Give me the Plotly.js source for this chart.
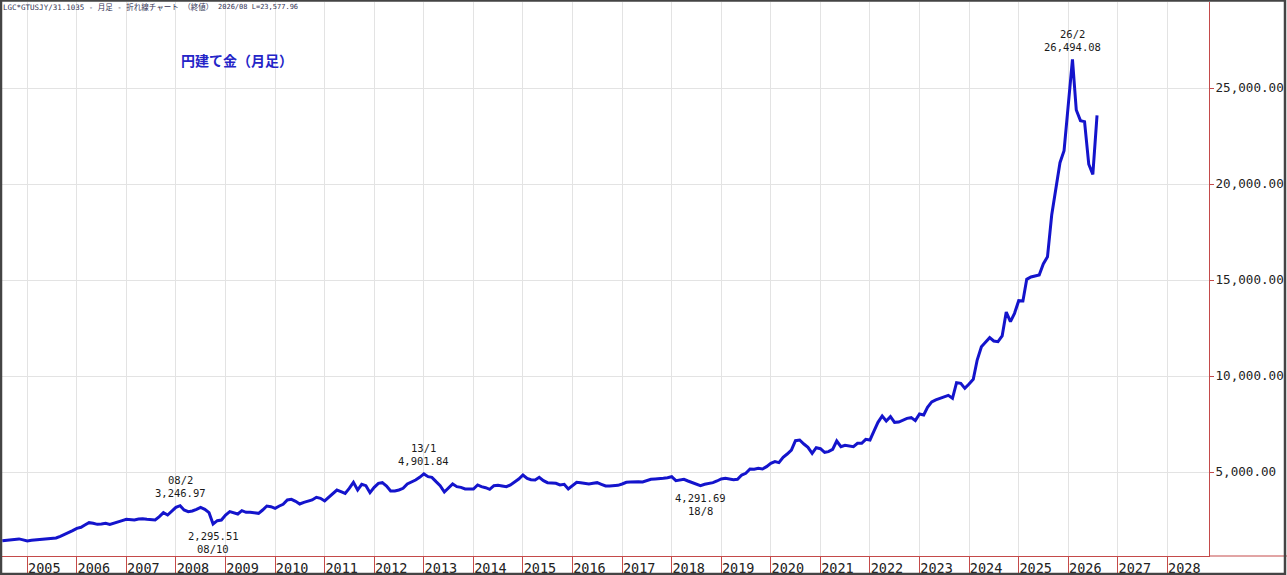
<!DOCTYPE html>
<html>
<head>
<meta charset="utf-8">
<script src="https://cdn.plot.ly/plotly-3.0.1.min.js"></script>
<style>
  html, body { margin: 0; padding: 0; background: #ffffff; }
  #chart { width: 1287px; height: 575px; }
</style>
</head>
<body>
<div id="chart"></div>
<script>
// ---- data (monthly close, JPY per gram), first month = 2004/07 ----
const startYear = 2004;
const startMonth = 7;
const monthlyClose = [
  1420, 1450, 1490, 1500, 1515, 1465,
  1406, 1440, 1458, 1476, 1493, 1528, 1545, 1562, 1649, 1736, 1823, 1944,
  2066, 2118, 2240, 2361, 2326, 2274, 2292, 2326, 2274, 2326, 2413, 2465,
  2535, 2500, 2500, 2552, 2569, 2535, 2500, 2500, 2674, 2882, 2760, 2934,
  3160, 3246.97, 3020, 2934, 2969, 3056, 3160, 3056, 2882, 2295.51, 2465, 2500,
  2760, 2934, 2882, 2812, 2986, 2899, 2899, 2873, 2847, 3021, 3229, 3194,
  3108, 3229, 3316, 3542, 3576, 3472, 3333, 3420, 3490, 3542, 3680, 3628,
  3490, 3680, 3854, 4062, 3976, 3889, 4149, 4462, 4062, 4358, 4288, 3923,
  4201, 4410, 4444, 4271, 4010, 4010, 4062, 4149, 4375, 4462, 4583, 4722,
  4901.84, 4757, 4722, 4497, 4288, 3958, 4184, 4375, 4236, 4201, 4115, 4097,
  4115, 4323, 4236, 4184, 4097, 4288, 4306, 4271, 4236, 4323, 4462, 4635,
  4844, 4670, 4601, 4583, 4722, 4549, 4444, 4410, 4410, 4323, 4358, 4115,
  4271, 4462, 4444, 4427, 4375, 4410, 4444, 4358, 4271, 4271, 4288, 4306,
  4375, 4462, 4479, 4497, 4497, 4479, 4549, 4618, 4635, 4635, 4670, 4705,
  4757, 4549, 4583, 4618, 4531, 4444, 4375, 4291.69, 4358, 4392, 4444, 4531,
  4635, 4670, 4618, 4601, 4618, 4844, 4931, 5156, 5141, 5193, 5156, 5278,
  5452, 5538, 5486, 5764, 5937, 6146, 6632, 6667, 6458, 6285, 5972, 6267,
  6215, 6024, 6059, 6181, 6615, 6319, 6389, 6372, 6319, 6493, 6493, 6701,
  6667, 7150, 7587, 7917, 7656, 7882, 7587, 7604, 7691, 7795, 7830, 7674,
  8021, 7969, 8368, 8650, 8760, 8850, 8930, 8990, 8837, 9653, 9618, 9358,
  9583, 9826, 10833, 11526, 11755, 11997, 11823, 11788, 12083, 13330, 12830, 13264,
  13924, 13906, 15035, 15156, 15208, 15260, 15833, 16215, 18385, 19774, 21111, 21736,
  24115, 26494.08, 23854, 23300, 23246, 21030, 20500, 23577.96
];

// marked highs / lows
const markDates  = ['2008-02-01', '2008-10-01', '2013-01-01', '2018-08-01', '2026-02-01'];
const markLabels = ['08/2', '08/10', '13/1', '18/8', '26/2'];
const markValues = [3246.97, 2295.51, 4901.84, 4291.69, 26494.08];
const markSides  = ['above', 'below', 'above', 'below', 'above'];

// axes
const yearTicks = [2005, 2006, 2007, 2008, 2009, 2010, 2011, 2012, 2013, 2014, 2015, 2016,
                   2017, 2018, 2019, 2020, 2021, 2022, 2023, 2024, 2025, 2026, 2027, 2028];
const yTickValues = [5000, 10000, 15000, 20000, 25000];

const headerText = 'LGC*GTUSJY/31.1035 - 月足 - 折れ線チャート （終値）';
const headerInfo = '2026/08 L=23,577.96';
const chartTitle = '円建て金（月足）';

// ---- build ----
const dates = monthlyClose.map((v, i) => {
  const m0 = startMonth - 1 + i;
  const y = startYear + Math.floor(m0 / 12);
  const m = (m0 % 12) + 1;
  return y + '-' + String(m).padStart(2, '0') + '-01';
});
const fmt2 = v => v.toLocaleString('en-US', {minimumFractionDigits: 2, maximumFractionDigits: 2});

const W = 1287, H = 575, ML = 2, MR = 78, MT = 2, MB = 19;
const PW = W - ML - MR, PH = H - MT - MB;
const px = x => (x - ML) / PW;          // pixel -> paper x
const py = y => (H - MB - y) / PH;      // pixel -> paper y

const red = '#c44a4a';
const grid = '#e3e3e3';
const mono = 'DejaVu Sans Mono, Noto Sans CJK JP, monospace';

const annotations = [];
markDates.forEach((d, i) => {
  const up = markSides[i] === 'above';
  annotations.push({
    x: d, y: markValues[i], xref: 'x', yref: 'y', showarrow: false,
    text: fmt2(markValues[i]), yanchor: 'middle', xanchor: 'center',
    yshift: up ? 12.5 : -12, font: {family: mono, size: 10.5, color: '#1a1a1a'}
  });
  annotations.push({
    x: d, y: markValues[i], xref: 'x', yref: 'y', showarrow: false,
    text: markLabels[i], yanchor: 'middle', xanchor: 'center',
    yshift: up ? 25.5 : -25, font: {family: mono, size: 10.5, color: '#1a1a1a'}
  });
});
annotations.push({
  xref: 'paper', yref: 'paper', x: px(1), y: py(7), xanchor: 'left', yanchor: 'middle',
  showarrow: false, text: headerText, font: {family: mono, size: 7.5, color: '#333355'}
});
annotations.push({
  xref: 'paper', yref: 'paper', x: px(216), y: py(7), xanchor: 'left', yanchor: 'middle',
  showarrow: false, text: headerInfo, font: {family: mono, size: 7, color: '#333355'}
});
annotations.push({
  xref: 'paper', yref: 'paper', x: px(179), y: py(60), xanchor: 'left', yanchor: 'middle',
  showarrow: false, text: '<b>' + chartTitle + '</b>',
  font: {family: 'Noto Sans CJK JP, sans-serif', size: 14, color: '#2525c8'}
});

const trace = {
  x: dates, y: monthlyClose, type: 'scatter', mode: 'lines',
  line: {color: '#1414cc', width: 3}, hoverinfo: 'skip'
};

const layout = {
  width: W, height: H,
  margin: {l: ML, r: MR, t: MT, b: MB, pad: 0},
  paper_bgcolor: '#ffffff', plot_bgcolor: '#ffffff',
  showlegend: false,
  xaxis: {
    type: 'date',
    range: ['2004-06-28 14:00', '2028-11-03'],
    tickvals: yearTicks.map(y => y + '-01-01'),
    ticktext: yearTicks.map(String),
    showgrid: true, gridcolor: grid, gridwidth: 1,
    zeroline: false,
    showline: true, linecolor: red, linewidth: 1,
    ticks: 'outside', ticklen: 17, tickcolor: red, tickwidth: 1,
    ticklabelstandoff: -17, ticklabelshift: 17,
    tickfont: {family: mono, size: 13.5, color: '#222222'},
    fixedrange: true
  },
  yaxis: {
    side: 'right',
    range: [625, 625 + PH * 52.083],
    tickvals: yTickValues,
    ticktext: yTickValues.map(fmt2),
    showgrid: true, gridcolor: grid, gridwidth: 1,
    zeroline: false,
    showline: true, linecolor: red, linewidth: 1,
    ticks: 'outside', ticklen: 4, tickcolor: red, tickwidth: 1,
    ticklabelstandoff: -1,
    tickfont: {family: mono, size: 12.6, color: '#222222'},
    fixedrange: true
  },
  shapes: [
    {type: 'line', xref: 'paper', yref: 'paper', x0: 1, x1: px(W), y0: 0, y1: 0,
     line: {color: red, width: 1}},
    {type: 'rect', xref: 'paper', yref: 'paper', x0: px(1), x1: px(1285), y0: py(574), y1: py(0.5),
     line: {color: '#444444', width: 2.5}, fillcolor: 'rgba(0,0,0,0)'}
  ],
  annotations: annotations
};

Plotly.newPlot('chart', [trace], layout, {staticPlot: true, displayModeBar: false});
</script>
</body>
</html>
